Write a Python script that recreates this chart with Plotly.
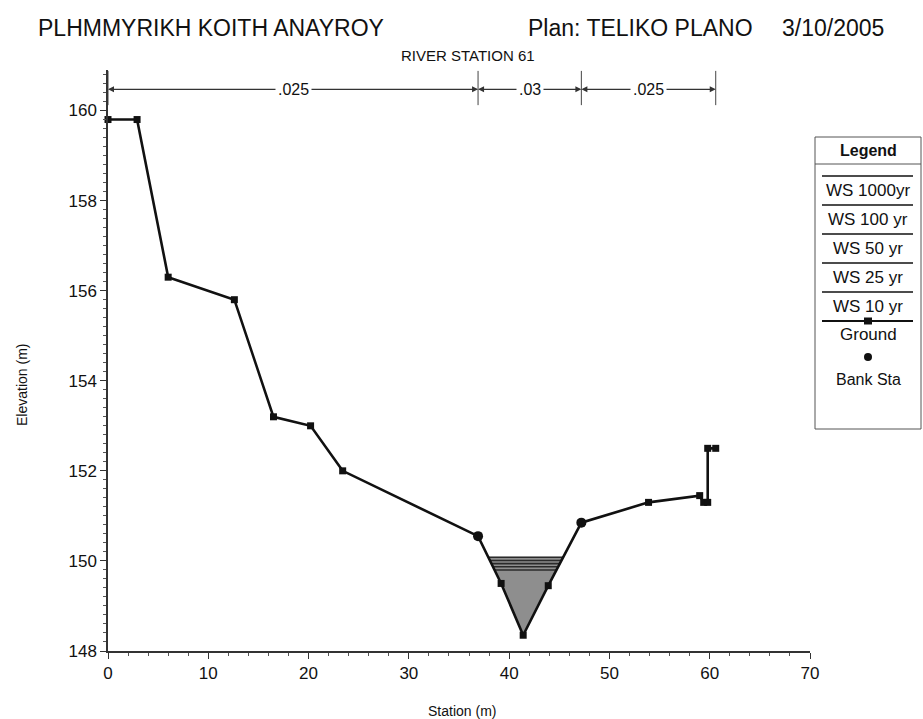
import numpy as np
import plotly.graph_objects as go

# ---------------- data ----------------
station = [0.0, 2.9, 6.0, 12.6, 16.5, 20.2, 23.4, 36.9, 39.2, 41.4, 43.9, 47.2,
           53.9, 59.0, 59.4, 59.8, 59.8, 60.6]
elevation = [159.8, 159.8, 156.3, 155.8, 153.2, 153.0, 152.0, 150.55, 149.5, 148.35,
             149.45, 150.85, 151.3, 151.45, 151.3, 151.3, 152.5, 152.5]
bank_sta = [36.9, 47.2]
ws_names = ["WS 1000yr", "WS 100 yr", "WS 50 yr", "WS 25 yr", "WS 10 yr"]
ws_elev = [150.08, 150.01, 149.94, 149.87, 149.80]
n_values = [".025", ".03", ".025"]
x_ticks = [0, 10, 20, 30, 40, 50, 60, 70]
y_ticks = [148, 150, 152, 154, 156, 158, 160]
title_left = "PLHMMYRIKH KOITH ANAYROY"
title_plan = "Plan: TELIKO PLANO"
title_date = "3/10/2005"
subtitle = "RIVER STATION 61"

FONT = "Liberation Sans, Arial, sans-serif"
W, H = 923, 719
L, R, T, B = 108, 810, 70, 651


def PX(px):
    return (px - L) / (R - L)


def PY(py):
    return (B - py) / (B - T)


def wet_section(xs, ys, z):
    xs = np.asarray(xs, float)
    ys = np.asarray(ys, float)
    i0 = int(np.argmin(ys))
    i = i0
    while i > 0 and ys[i - 1] < z:
        i -= 1
    xl = xs[i - 1] + (z - ys[i - 1]) * (xs[i] - xs[i - 1]) / (ys[i] - ys[i - 1])
    j = i0
    while j < len(ys) - 1 and ys[j + 1] < z:
        j += 1
    xr = xs[j] + (z - ys[j]) * (xs[j + 1] - xs[j]) / (ys[j + 1] - ys[j])
    return xl, xr, list(xs[i:j + 1]), list(ys[i:j + 1])


fig = go.Figure()

# water fill (highest profile)
xl, xr, ix, iy = wet_section(station, elevation, ws_elev[0])
fig.add_trace(go.Scatter(
    x=[xl] + ix + [xr, xl], y=[ws_elev[0]] + iy + [ws_elev[0], ws_elev[0]],
    mode="lines", fill="toself", fillcolor="#8e8e8e",
    line=dict(color="#555", width=0.5), hoverinfo="skip", showlegend=False))

# water surface lines
for name, z in zip(ws_names, ws_elev):
    a, b, _, _ = wet_section(station, elevation, z)
    fig.add_trace(go.Scatter(x=[a, b], y=[z, z], mode="lines", name=name,
                             line=dict(color="#2a2a2a", width=1.6), showlegend=False))

# ground
fig.add_trace(go.Scatter(x=station, y=elevation, mode="lines+markers", name="Ground",
                         line=dict(color="#111", width=2.6),
                         marker=dict(symbol="square", size=7, color="#111"),
                         cliponaxis=False, showlegend=False))

# bank stations
bank_elev = [float(np.interp(s, station[:12], elevation[:12])) for s in bank_sta]
fig.add_trace(go.Scatter(x=bank_sta, y=bank_elev, mode="markers", name="Bank Sta",
                         marker=dict(symbol="circle", size=10, color="#111"),
                         showlegend=False))

shapes = []
annotations = []

# roughness bar
bounds = [station[0], bank_sta[0], bank_sta[1], station[-1]]
yb = 160.47
for b in bounds:
    shapes.append(dict(type="line", xref="x", yref="y", x0=b, x1=b, y0=160.12, y1=160.88,
                       line=dict(color="#444", width=1)))
for k, nv in enumerate(n_values):
    b0, b1 = bounds[k], bounds[k + 1]
    m = (b0 + b1) / 2
    for head in (b0, b1):
        annotations.append(dict(x=head, y=yb, ax=m, ay=yb, xref="x", yref="y",
                                axref="x", ayref="y", text="", showarrow=True,
                                arrowhead=2, arrowsize=1, arrowwidth=1.2,
                                arrowcolor="#333"))
    annotations.append(dict(x=m, y=yb, xref="x", yref="y", text=nv, showarrow=False,
                            bgcolor="white", borderpad=2,
                            font=dict(family=FONT, size=16, color="#111")))


def txt(px, py, text, size, xanchor="center", angle=0):
    return dict(x=PX(px), y=PY(py), xref="paper", yref="paper", text=text,
                showarrow=False, xanchor=xanchor, yanchor="middle", textangle=angle,
                font=dict(family=FONT, size=size, color="#111"))


# titles
annotations += [
    txt(36, 28, title_left, 23, xanchor="left"),
    txt(640, 28, title_plan, 23),
    txt(886, 28, title_date, 23, xanchor="right"),
    txt(468, 55, subtitle, 15),
    txt(22, 385, "Elevation (m)", 14, angle=-90),
    txt(462, 711, "Station (m)", 14),
]

# custom legend box
bx0, bx1, by0, by1 = 815, 921, 137, 429
shapes.append(dict(type="rect", xref="paper", yref="paper", x0=PX(bx0), x1=PX(bx1),
                   y0=PY(by1), y1=PY(by0), line=dict(color="#555", width=1),
                   fillcolor="white", layer="above"))
shapes.append(dict(type="line", xref="paper", yref="paper", x0=PX(bx0), x1=PX(bx1),
                   y0=PY(164), y1=PY(164), line=dict(color="#555", width=1), layer="above"))
annotations.append(txt(868, 150, "<b>Legend</b>", 16))
items = ws_names + ["Ground"]
for i, name in enumerate(items):
    ly = 176 + 29 * i
    ty = 190 + 29 * i
    shapes.append(dict(type="line", xref="paper", yref="paper", x0=PX(822), x1=PX(913),
                       y0=PY(ly), y1=PY(ly), line=dict(color="#111", width=2 if i == 5 else 1.6),
                       layer="above"))
    if i == 5:
        shapes.append(dict(type="rect", xref="paper", yref="paper", x0=PX(864), x1=PX(872),
                           y0=PY(ly + 3.5), y1=PY(ly - 3.5), fillcolor="#111",
                           line=dict(width=0), layer="above"))
    annotations.append(txt(868, ty, name, 17))
shapes.append(dict(type="circle", xref="paper", yref="paper", x0=PX(864), x1=PX(872),
                   y0=PY(361), y1=PY(353), fillcolor="#111", line=dict(width=0),
                   layer="above"))
annotations.append(txt(868, 379, "Bank Sta", 16))

axis_common = dict(showline=True, linecolor="#333", linewidth=1.5, ticks="outside",
                   ticklen=6, tickcolor="#333", tickwidth=1.2, showgrid=False,
                   zeroline=False, tickfont=dict(family=FONT, size=17, color="#111"))
fig.update_layout(
    width=W, height=H, paper_bgcolor="white", plot_bgcolor="white",
    margin=dict(l=L, r=W - R, t=T, b=H - B, autoexpand=False),
    xaxis=dict(range=[0, 70], tickvals=x_ticks,
               minor=dict(dtick=2, ticks="outside", ticklen=3, tickcolor="#555"),
               **axis_common),
    yaxis=dict(range=[148, 160.9], tickvals=y_ticks,
               minor=dict(dtick=0.2, ticks="outside", ticklen=3, tickcolor="#555"),
               **axis_common),
    shapes=shapes, annotations=annotations, showlegend=False,
    font=dict(family=FONT),
)

fig.write_html("out.html", config={"displayModeBar": False},
               post_script="document.body.style.margin='0';"
                           "document.body.style.overflow='hidden';")
